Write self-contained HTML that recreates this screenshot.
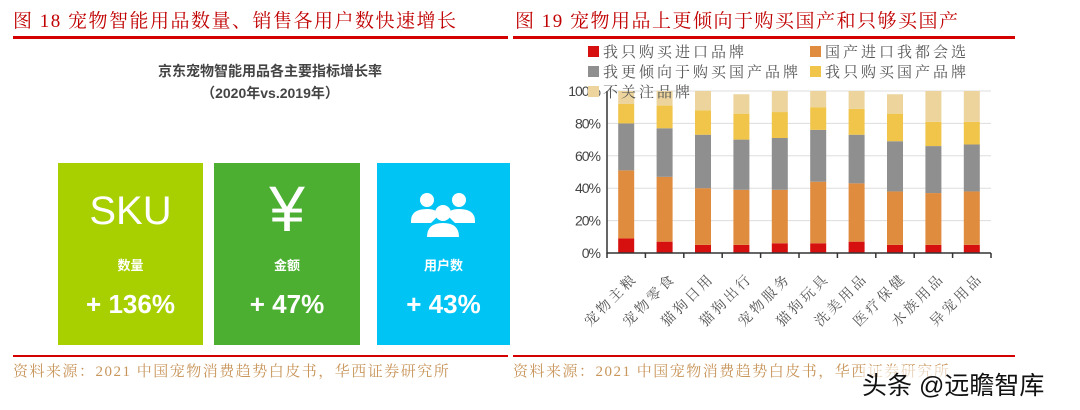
<!DOCTYPE html>
<html><head><meta charset="utf-8">
<style>
body{margin:0;width:1080px;height:410px;background:#fff;position:relative;overflow:hidden;font-family:"Liberation Sans","Noto Sans CJK SC",sans-serif}
.abs{position:absolute}
.ttl{font-family:"Liberation Serif","Noto Serif CJK SC",serif;color:#c00000;font-size:19px;letter-spacing:1.5px;top:6px;white-space:nowrap}
.rule{background:#d40000;height:3px}
.src{font-family:"Liberation Serif","Noto Serif CJK SC",serif;color:#c8955a;font-size:15px;letter-spacing:1.5px;top:360px;white-space:nowrap}
.box{top:163px;height:182px;color:#fff;text-align:center}
.box .lab{position:absolute;top:92px;width:100%;font-size:13px;font-weight:bold}
.box .val{position:absolute;top:126px;width:100%;font-size:26px;font-weight:bold}
</style></head><body>
<div class="abs ttl" style="left:13px">图 18 宠物智能用品数量、销售各用户数快速增长</div>
<div class="abs ttl" style="left:515px">图 19 宠物用品上更倾向于购买国产和只够买国产</div>
<div class="abs rule" style="left:13px;top:36px;width:495px"></div>
<div class="abs rule" style="left:513px;top:36px;width:502px"></div>
<div class="abs rule" style="left:13px;top:355px;width:495px;height:2px"></div>
<div class="abs rule" style="left:513px;top:355px;width:502px;height:2px"></div>
<div class="abs src" style="left:13px">资料来源：2021 中国宠物消费趋势白皮书，华西证券研究所</div>
<div class="abs src" style="left:513px">资料来源：2021 中国宠物消费趋势白皮书，华西证券研究所</div>
<div class="abs" style="left:862px;top:366px;font-size:25px;color:#111;background:rgba(255,255,255,0.6);white-space:nowrap">头条 @远瞻智库</div>

<div class="abs" style="left:0;top:60px;width:540px;text-align:center;font-size:14px;font-weight:bold;color:#444;line-height:22px">京东宠物智能用品各主要指标增长率<br>（2020年vs.2019年）</div>

<div class="abs box" style="left:58px;width:145px;background:#a8d000">
<div style="position:absolute;top:26px;width:100%;font-size:40px">SKU</div>
<div class="lab">数量</div>
<div class="val">+ 136%</div></div>
<div class="abs box" style="left:214px;width:146px;background:#4caf32">
<div style="position:absolute;top:14px;width:100%;font-size:64px;line-height:64px;font-weight:100">¥</div>
<div class="lab">金额</div>
<div class="val">+ 47%</div></div>
<div class="abs box" style="left:377px;width:133px;background:#00c4f4">
<svg style="position:absolute;left:34px;top:28px" width="64" height="50" viewBox="0 0 64 50">
<g fill="#fff"><circle cx="16" cy="9" r="7"/><path d="M0 30 Q0 18 16 18 Q26 18 28 24 L20 32 L0 32Z"/>
<circle cx="48" cy="9" r="7"/><path d="M64 30 Q64 18 48 18 Q38 18 36 24 L44 32 L64 32Z"/>
<circle cx="32" cy="22" r="8"/><path d="M16 46 Q16 32 32 32 Q48 32 48 46Z"/></g></svg>
<div class="lab">用户数</div>
<div class="val">+ 43%</div></div>

<svg id="chart" class="abs" style="left:0;top:0" width="1080" height="410"></svg>
<script>
const categories=["宠物主粮","宠物零食","猫狗日用","猫狗出行","宠物服务","猫狗玩具","洗美用品","医疗保健","水族用品","异宠用品"];
const seriesNames=["我只购买进口品牌","国产进口我都会选","我更倾向于购买国产品牌","我只购买国产品牌","不关注品牌"];
const s1=[9,7,5,5,6,6,7,5,5,5];
const s2=[42,40,35,34,33,38,36,33,32,33];
const s3=[29,30,33,31,32,32,30,31,29,29];
const s4=[12,14,15,16,16,14,16,17,15,14];
const s5=[8,9,12,12,13,10,11,12,19,19];
const yTicks=[0,20,40,60,80,100];
const series=[s1,s2,s3,s4,s5];
const colors=["#d60f0f","#e08c3e","#8f8f8f","#f0c54a","#ecd49c"];
const NS="http://www.w3.org/2000/svg";
const svg=document.getElementById('chart');
const x0=607,x1=991,yB=253,yT=91;
const band=(x1-x0)/categories.length;
const X=i=>x0+band*(i+0.5);
const Y=v=>yB-(yB-yT)*v/100;
function mk(t,a){const e=document.createElementNS(NS,t);for(const k in a)e.setAttribute(k,a[k]);svg.appendChild(e);return e;}
yTicks.forEach(t=>{
  if(t>0){const g=mk('line',{x1:x0,x2:x1,y1:Y(t),y2:Y(t),stroke:'#ddd','stroke-width':1});
  
  }
  const l=mk('text',{x:x0-7,y:Y(t)+5,'text-anchor':'end','font-size':14,fill:'#444','font-family':'Liberation Sans','letter-spacing':'-1'});
  l.textContent=t+'%';
  
  
});
categories.forEach((c,i)=>{
  let acc=0;
  series.forEach((s,k)=>{
    const r=mk('rect',{x:X(i)-8,width:16,y:Y(acc+s[i]),height:Y(acc)-Y(acc+s[i]),fill:colors[k]});
    
    
    acc+=s[i];
  });
  const t=mk('text',{transform:`translate(${X(i)+12},${yB+26}) rotate(-45)`,'text-anchor':'end','font-size':14,fill:'#555','font-family':'Noto Serif CJK SC, serif','letter-spacing':'3'});
  t.textContent=c;
  
  
});
const ax=mk('path',{d:`M${x0} ${yT} V${yB} H${x1}`,stroke:'#333',fill:'none','stroke-width':1.5});


for(let i=0;i<=categories.length;i++){
  const tk=mk('line',{x1:x0+band*i,x2:x0+band*i,y1:yB,y2:yB+5,stroke:'#333','stroke-width':1.5});
  
  
}
const legPos=[[588,52],[810,52],[588,72],[810,72],[588,92]];
seriesNames.forEach((n,k)=>{
  const [lx,ly]=legPos[k];
  const sq=mk('rect',{x:lx,y:ly-6,width:11,height:11,fill:colors[k]});
  
  
  const t=mk('text',{x:lx+15,y:ly+5,'font-size':15,fill:'#555','font-family':'Noto Serif CJK SC, serif','letter-spacing':'3'});
  t.textContent=n;
  
  
});
</script>
</body></html>
